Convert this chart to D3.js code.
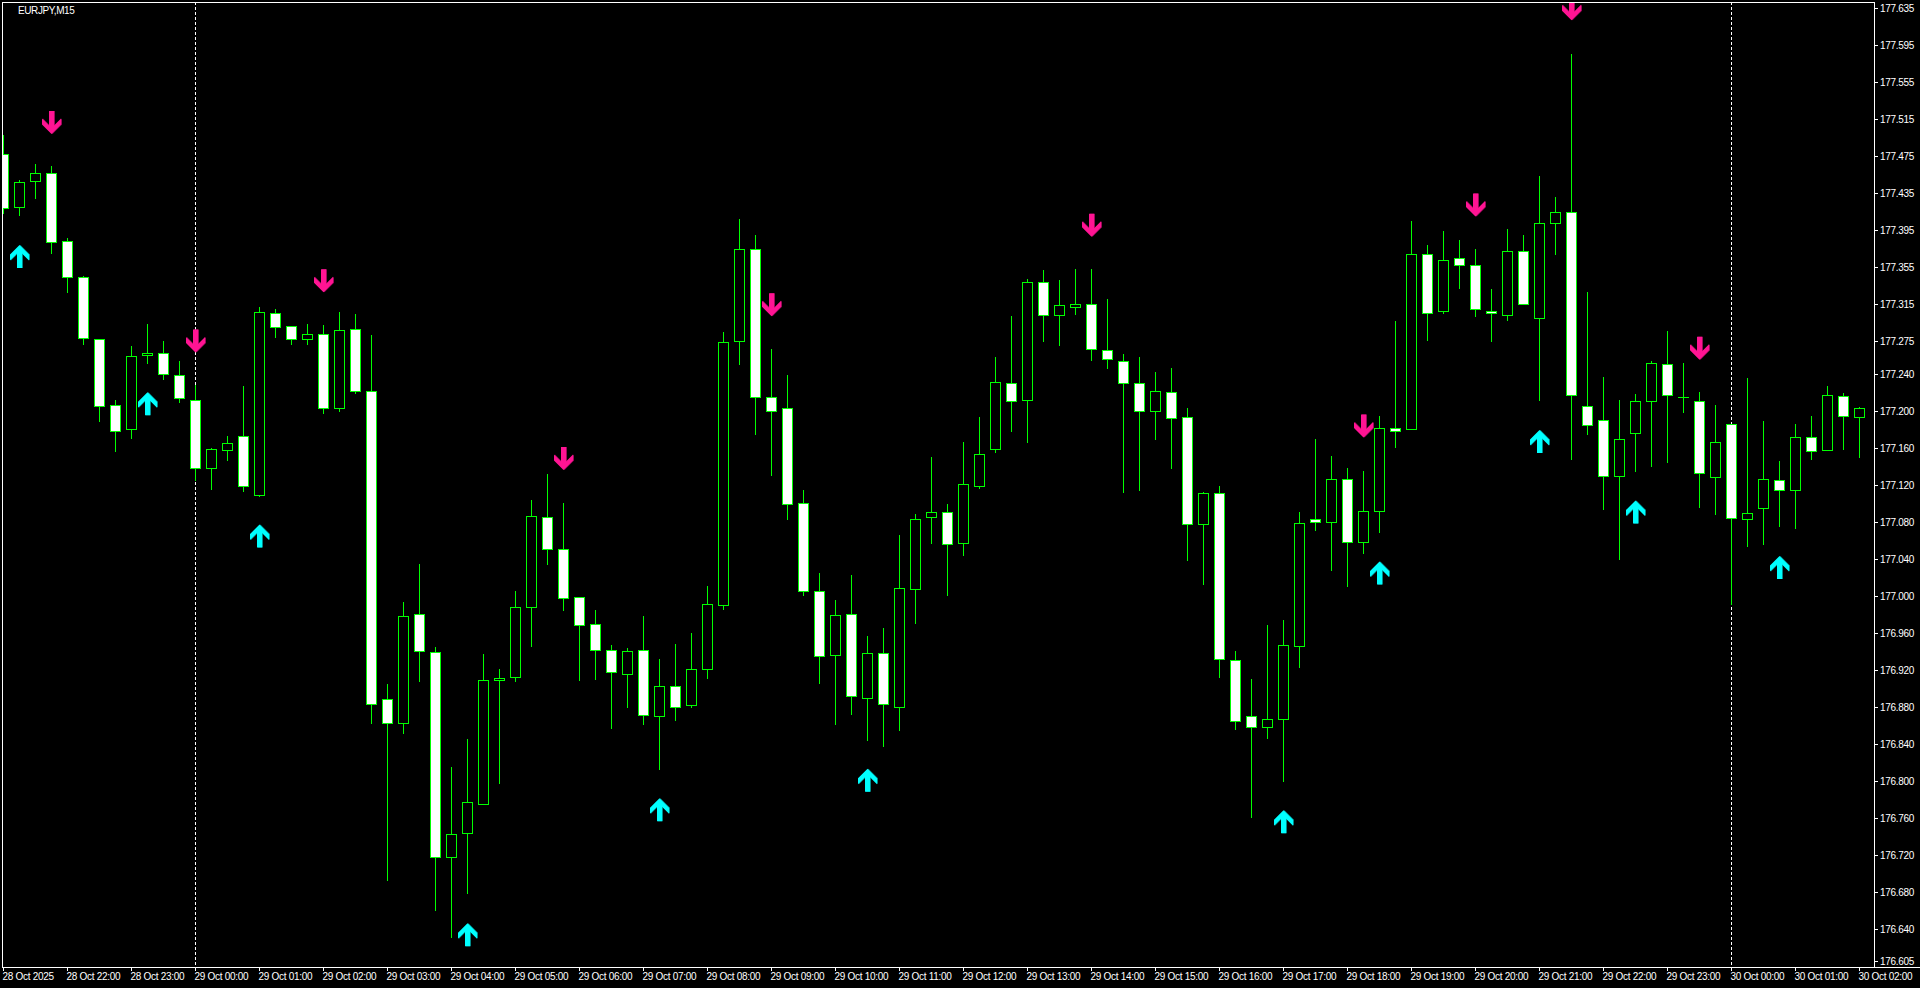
<!DOCTYPE html>
<html><head><meta charset="utf-8">
<script src="https://cdn.jsdelivr.net/npm/d3@7"></script>
<style>html,body{margin:0;padding:0;background:#000;overflow:hidden}</style>
</head><body><svg id="c" width="1920" height="988"></svg>
<script>
const title = "EURJPY,M15";
const open = [
177.477,177.420,177.448,177.457,177.383,177.344,177.278,177.206,177.180,177.260,
177.262,177.239,177.212,177.138,177.158,177.173,177.109,177.306,177.292,177.278,
177.283,177.203,177.288,177.221,176.888,176.862,176.980,176.939,176.717,176.743,
176.775,176.909,176.912,176.988,177.085,177.050,176.999,176.969,176.941,176.915,
176.941,176.870,176.902,176.882,176.921,176.990,177.275,177.375,177.215,177.203,
177.100,177.005,176.936,176.980,176.889,176.938,176.880,177.007,177.085,177.091,
177.057,177.119,177.159,177.230,177.212,177.339,177.303,177.312,177.315,177.266,
177.254,177.230,177.200,177.220,177.193,177.078,177.111,176.931,176.870,176.858,
176.867,176.946,177.083,177.080,177.126,177.058,177.092,177.181,177.180,177.369,
177.308,177.365,177.357,177.308,177.303,177.373,177.300,177.403,177.415,177.205,
177.190,177.129,177.176,177.210,177.251,177.215,177.210,177.128,177.186,177.083,
177.095,177.125,177.114,177.172,177.157,177.216,177.193];
const high = [
177.498,177.449,177.467,177.465,177.387,177.346,177.278,177.212,177.270,177.294,
177.275,177.254,177.228,177.160,177.173,177.227,177.312,177.310,177.292,177.294,
177.293,177.307,177.305,177.282,176.904,176.993,177.034,176.944,176.815,176.845,
176.937,176.921,177.005,177.103,177.132,177.100,176.999,176.985,176.947,176.943,
176.978,176.932,176.948,176.960,177.011,177.285,177.407,177.390,177.267,177.239,
177.114,177.025,176.995,177.022,176.956,176.965,177.066,177.088,177.150,177.099,
177.166,177.193,177.258,177.302,177.342,177.352,177.341,177.353,177.353,177.321,
177.261,177.258,177.242,177.246,177.203,177.112,177.119,176.940,176.910,176.968,
176.974,177.090,177.169,177.151,177.138,177.135,177.194,177.297,177.405,177.379,
177.394,177.384,177.375,177.332,177.396,177.390,177.454,177.431,177.586,177.328,
177.236,177.212,177.218,177.254,177.286,177.252,177.220,177.206,177.186,177.235,
177.189,177.146,177.186,177.194,177.227,177.219,177.204];
const low = [
177.414,177.411,177.430,177.371,177.328,177.272,177.189,177.156,177.171,177.252,
177.234,177.209,177.125,177.115,177.147,177.113,177.108,177.280,177.272,177.272,
177.198,177.200,177.219,176.862,176.693,176.852,176.908,176.660,176.631,176.679,
176.775,176.798,176.908,176.946,177.034,176.985,176.909,176.910,176.857,176.880,
176.861,176.813,176.866,176.880,176.911,176.986,177.251,177.175,177.131,177.083,
177.001,176.906,176.861,176.872,176.844,176.838,176.855,176.970,177.057,177.001,
177.044,177.116,177.155,177.178,177.166,177.275,177.271,177.304,177.255,177.246,
177.112,177.114,177.169,177.138,177.039,177.013,176.912,176.856,176.761,176.846,
176.800,176.923,177.071,177.028,177.011,177.046,177.069,177.161,177.180,177.276,
177.306,177.333,177.302,177.275,177.298,177.315,177.212,177.369,177.148,177.175,
177.094,177.040,177.135,177.140,177.144,177.199,177.096,177.088,176.991,177.054,
177.056,177.075,177.073,177.148,177.157,177.159,177.150];
const close = [
177.419,177.447,177.457,177.382,177.345,177.279,177.205,177.178,177.259,177.262,
177.240,177.214,177.138,177.159,177.165,177.119,177.307,177.290,177.278,177.283,
177.203,177.287,177.221,176.883,176.862,176.978,176.940,176.718,176.742,176.777,
176.909,176.911,176.988,177.086,177.050,176.998,176.968,176.941,176.917,176.940,
176.871,176.902,176.880,176.921,176.991,177.274,177.375,177.215,177.200,177.099,
177.005,176.935,176.979,176.892,176.938,176.883,177.008,177.083,177.091,177.056,
177.121,177.153,177.231,177.211,177.339,177.303,177.314,177.315,177.267,177.256,
177.230,177.200,177.221,177.192,177.077,177.111,176.932,176.864,176.858,176.867,
176.947,177.079,177.080,177.126,177.058,177.092,177.181,177.178,177.369,177.306,
177.363,177.358,177.310,177.306,177.373,177.315,177.403,177.415,177.217,177.185,
177.129,177.169,177.211,177.252,177.217,177.215,177.133,177.166,177.084,177.089,
177.126,177.114,177.172,177.156,177.217,177.194,177.203];

const sellIdx = [3,12,20,35,48,68,85,92,98,106];
const sellPrice = [177.499,177.263,177.328,177.136,177.302,177.388,177.171,177.410,177.622,177.255];
const buyIdx = [1,9,16,29,41,54,80,86,96,102,111];
const buyPrice = [177.379,177.220,177.077,176.646,176.781,176.813,176.768,177.037,177.179,177.103,177.043];

const priceTicks = ["177.635","177.595","177.555","177.515","177.475","177.435","177.395","177.355","177.315","177.275",
"177.240","177.200","177.160","177.120","177.080","177.040","177.000","176.960","176.920","176.880",
"176.840","176.800","176.760","176.720","176.680","176.640","176.605"];
const timeLabels = ["28 Oct 2025","28 Oct 22:00","28 Oct 23:00",
"29 Oct 00:00","29 Oct 01:00","29 Oct 02:00","29 Oct 03:00","29 Oct 04:00","29 Oct 05:00","29 Oct 06:00","29 Oct 07:00",
"29 Oct 08:00","29 Oct 09:00","29 Oct 10:00","29 Oct 11:00","29 Oct 12:00","29 Oct 13:00","29 Oct 14:00","29 Oct 15:00",
"29 Oct 16:00","29 Oct 17:00","29 Oct 18:00","29 Oct 19:00","29 Oct 20:00","29 Oct 21:00","29 Oct 22:00","29 Oct 23:00",
"30 Oct 00:00","30 Oct 01:00","30 Oct 02:00"];
const barsPerLabel = 4;

const W=1920,H=988, L=2,T=2,R=1874,B=967;
const LIME="#00ff00", FONT="'Liberation Sans', Arial, sans-serif";
const svg=d3.select("#c");
svg.append("rect").attr("width",W).attr("height",H).attr("fill","#000");
const x=d3.scaleLinear().domain([0,open.length-1]).range([3,1859]);
const y=d3.scaleLinear().domain([176.5986,177.6418]).range([B,T]);

svg.append("clipPath").attr("id","pc").append("rect").attr("x",L+1).attr("y",T+1).attr("width",R-L-1).attr("height",B-T-1);
const plot=svg.append("g").attr("clip-path","url(#pc)");

// day separators
timeLabels.forEach((t,k)=>{
  if(t.endsWith("00:00")){
    const px=Math.round(x(k*barsPerLabel))+0.5;
    plot.append("line").attr("x1",px).attr("x2",px).attr("y1",T).attr("y2",B)
      .attr("stroke","#fff").attr("stroke-width",1).attr("stroke-dasharray","3,2");
  }
});

// candles
const idx=d3.range(open.length);
const cg=plot.append("g");
idx.forEach(i=>{
  const c=Math.round(x(i));
  const o=open[i], cl=close[i];
  cg.append("line").attr("x1",c+0.5).attr("x2",c+0.5)
    .attr("y1",Math.round(y(high[i]))).attr("y2",Math.round(y(low[i]))+1)
    .attr("stroke",LIME).attr("stroke-width",1);
  const top=Math.round(y(Math.max(o,cl))), bot=Math.round(y(Math.min(o,cl)));
  if(bot-top<1){
    cg.append("line").attr("x1",c-5).attr("x2",c+6).attr("y1",top+0.5).attr("y2",top+0.5)
      .attr("stroke",LIME).attr("stroke-width",1);
  } else {
    cg.append("rect").attr("x",c-5+0.5).attr("y",top+0.5).attr("width",10).attr("height",bot-top)
      .attr("fill", cl>=o ? "#000" : "#fff").attr("stroke",LIME).attr("stroke-width",1);
  }
});

// arrows
function arrowPath(down){
  const pts=[[-2.5,0],[2.5,0],[2.5,14.5],[9.5,7.5],[9.5,13.5],[0,23],[-9.5,13.5],[-9.5,7.5],[-2.5,14.5]];
  // pts describe a down arrow with tip at y=23
  return pts.map(p=> down ? [p[0], p[1]-23] : [p[0], 23-p[1]-0]);
}
const line=d3.line();
sellIdx.forEach((bi,k)=>{
  const cx=Math.round(x(bi))+0.5, ty=y(sellPrice[k]);
  const pts=arrowPath(true).map(p=>[cx+p[0],ty+p[1]]);
  plot.append("path").attr("d",line(pts.map(p=>[p[0]+1,p[1]]))+"Z").attr("fill","#9b0a5a");
  plot.append("path").attr("d",line(pts)+"Z").attr("fill","#ff1493");
});
buyIdx.forEach((bi,k)=>{
  const cx=Math.round(x(bi))+0.5, ty=y(buyPrice[k]);
  const pts=arrowPath(false).map(p=>[cx+p[0],ty+(p[1]-23)+23]);
  // up arrow: tip at ty, glyph extends downward
  const up=[[-2.5,23],[2.5,23],[2.5,8.5],[9.5,15.5],[9.5,9.5],[0,0],[-9.5,9.5],[-9.5,15.5],[-2.5,8.5]].map(p=>[cx+p[0],ty+p[1]]);
  plot.append("path").attr("d",line(up.map(p=>[p[0]+1,p[1]]))+"Z").attr("fill","#008b8b");
  plot.append("path").attr("d",line(up)+"Z").attr("fill","#00ffff");
});

// frame
svg.append("rect").attr("x",L+0.5).attr("y",T+0.5).attr("width",R-L).attr("height",B-T)
  .attr("fill","none").attr("stroke","#fff").attr("stroke-width",1);
svg.append("line").attr("x1",L).attr("x2",W).attr("y1",B+0.5).attr("y2",B+0.5).attr("stroke","#fff");

// price axis
priceTicks.forEach(t=>{
  const py=Math.round(y(+t))+0.5;
  svg.append("line").attr("x1",R).attr("x2",R+4).attr("y1",py).attr("y2",py).attr("stroke","#fff");
  svg.append("text").attr("x",R+6).attr("y",py+3.5).attr("fill","#fff")
    .attr("font-family",FONT).attr("font-size","10px").attr("letter-spacing","-0.3px").text(t);
});

// time axis
timeLabels.forEach((t,k)=>{
  const px=Math.round(x(k*barsPerLabel))+0.5;
  svg.append("line").attr("x1",px).attr("x2",px).attr("y1",B).attr("y2",B+4).attr("stroke","#fff");
  svg.append("text").attr("x",px-1).attr("y",B+13).attr("fill","#fff")
    .attr("font-family",FONT).attr("font-size","10px").attr("letter-spacing","-0.3px").text(t);
});

// title
svg.append("text").attr("x",18).attr("y",14).attr("fill","#fff")
  .attr("font-family",FONT).attr("font-size","10px").attr("letter-spacing","-0.4px").text(title);
</script></body></html>
